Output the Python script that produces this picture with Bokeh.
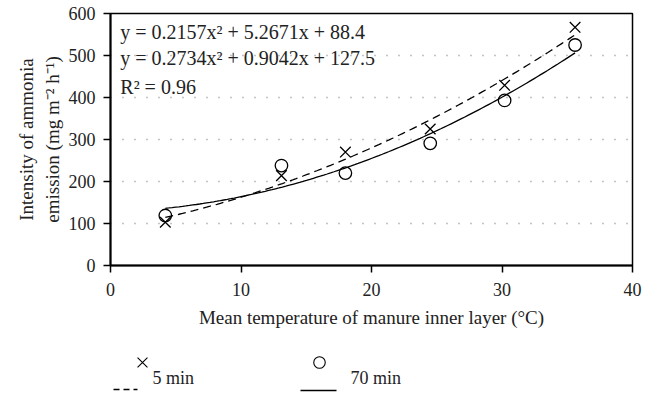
import numpy as np
from bokeh.plotting import figure
from bokeh.models import Range1d, Label, FixedTicker, ColumnDataSource
from bokeh.layouts import column
from bokeh.embed import file_html
from bokeh.resources import INLINE
from bokeh.core.properties import value

# ---- data ----
temperature = [4.2, 13.1, 18.0, 24.5, 30.2, 35.6]
emission_5min = [103, 214, 270, 325, 429, 567]
emission_70min = [119, 238, 220, 291, 393, 525]

# fitted quadratic trend lines as printed on the chart (a, b, c)
fit_5min = [0.2157, 5.2671, 88.4]
fit_70min = [0.2734, 0.9042, 127.5]
fit_range = [4.2, 35.6]

x_ticks = [0, 10, 20, 30, 40]
y_ticks = [0, 100, 200, 300, 400, 500, 600]

eq_lines = ["y = 0.2157x² + 5.2671x + 88.4",
            "y = 0.2734x² + 0.9042x + 127.5",
            "R² = 0.96"]
legend_labels = ["5 min", "70 min"]

FONT = "Liberation Serif"
TXT = "#222222"

# ---- main plot ----
p = figure(width=653, height=345, output_backend="svg", toolbar_location=None,
           x_range=Range1d(0, 40), y_range=Range1d(0, 600),
           min_border_left=110, min_border_right=21, min_border_top=13,
           min_border_bottom=80)
p.background_fill_color = "white"
p.border_fill_color = "white"
p.outline_line_color = "black"
p.outline_line_width = 1.5

p.xaxis.ticker = FixedTicker(ticks=x_ticks)
p.yaxis.ticker = FixedTicker(ticks=y_ticks)
for ax in (p.xaxis, p.yaxis):
    ax.axis_line_width = 2
    ax.axis_line_color = "black"
    ax.major_tick_line_width = 1.5
    ax.major_tick_line_color = "black"
    ax.major_tick_in = 0
    ax.major_tick_out = 7
    ax.minor_tick_line_color = None
    ax.major_label_text_font = FONT
    ax.major_label_text_font_size = "18px"
    ax.major_label_text_color = TXT
    ax.axis_label_text_font = FONT
    ax.axis_label_text_font_size = "19px"
    ax.axis_label_text_font_style = "normal"
    ax.axis_label_text_color = TXT
p.xaxis.major_label_standoff = 10
p.yaxis.major_label_standoff = 8
p.xaxis.axis_label = "Mean temperature of manure inner layer (°C)"
p.xaxis.axis_label_standoff = 8
p.yaxis.axis_label = "Intensity of ammonia\nemission (mg m⁻² h⁻¹)"
p.yaxis.axis_label_standoff = 3

p.xgrid.grid_line_color = None
p.ygrid.grid_line_color = "#888888"
p.ygrid.grid_line_dash = "1 11"
p.ygrid.grid_line_width = 1.5

# trend lines from printed coefficients
xs = np.linspace(fit_range[0], fit_range[1], 120)
y5 = fit_5min[0] * xs**2 + fit_5min[1] * xs + fit_5min[2]
y70 = fit_70min[0] * xs**2 + fit_70min[1] * xs + fit_70min[2]
p.line(xs, y5, line_color="black", line_width=1.3, line_dash="8 5")
p.line(xs, y70, line_color="black", line_width=1.3)

src = ColumnDataSource(dict(x=temperature, y5=emission_5min, y70=emission_70min))
p.scatter("x", "y5", source=src, marker="x", size=15, line_color="black", line_width=1.3)
p.scatter("x", "y70", source=src, marker="circle", size=12.5, line_color="black",
          fill_color=None, line_width=1.3)

eq_y = [555, 493, 424]
for txt, yy in zip(eq_lines, eq_y):
    p.add_layout(Label(x=0.75, y=yy, text=txt, text_font=FONT,
                       text_font_size="20px", text_baseline="middle",
                       text_color=TXT))

# ---- legend strip (frame aligned with the main frame: x = page pixels) ----
lg = figure(width=653, height=48, output_backend="svg", toolbar_location=None,
            x_range=Range1d(110, 632), y_range=Range1d(393, 345),
            min_border_left=110, min_border_right=21,
            min_border_top=0, min_border_bottom=0)
lg.axis.visible = False
lg.grid.visible = False
lg.outline_line_color = None
lg.background_fill_color = "white"
lg.border_fill_color = "white"

lg.scatter([142], [362], marker="x", size=14, line_color="black", line_width=1.1)
lg.line([103, 137], [389, 389], line_color="black", line_width=1.3, line_dash="6 4")
lg.text([152], [377], text=[legend_labels[0]], text_font=value(FONT),
        text_font_size="18px", text_baseline="middle", text_color=TXT)
lg.scatter([319], [362], marker="circle", size=11.5, line_color="black",
           fill_color=None, line_width=1.1)
lg.line([300, 336], [390, 390], line_color="black", line_width=1.3)
lg.text([350], [377], text=[legend_labels[1]], text_font=value(FONT),
        text_font_size="18px", text_baseline="middle", text_color=TXT)

layout = column(p, lg, spacing=0)
open("out.html", "w").write(file_html(layout, INLINE))
